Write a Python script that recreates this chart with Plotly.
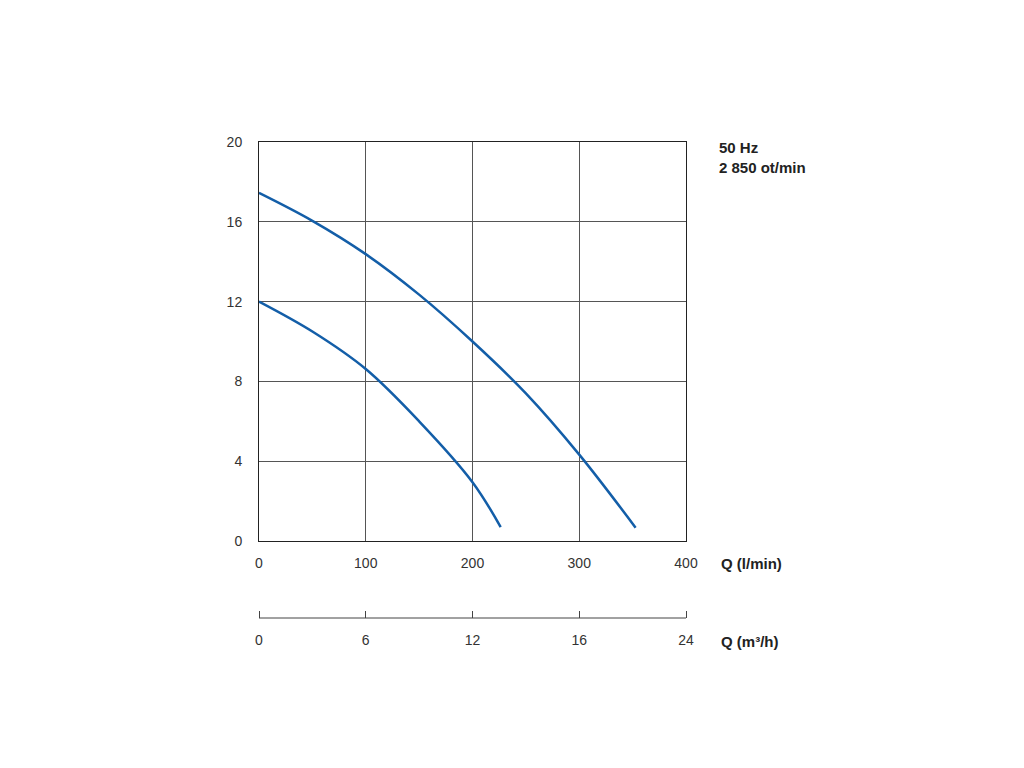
import plotly.graph_objects as go

# Data (Q in l/min, H in m)
q_upper = [0, 50, 100, 150, 200, 250, 300, 352.8]
h_upper = [17.45, 16.05, 14.38, 12.35, 10.0, 7.4, 4.33, 0.67]
q_lower = [0, 50, 100, 150, 200, 226.4]
h_lower = [12.0, 10.5, 8.62, 6.0, 2.95, 0.7]

x_ticks = [0, 100, 200, 300, 400]
y_ticks = [0, 4, 8, 12, 16, 20]
m3h_ticktext = ["0", "6", "12", "16", "24"]

curve_color = "#135ea8"
grid_color = "#555555"
font = dict(family="Liberation Sans, Arial, sans-serif", size=14, color="#333333")
bold_font = dict(family="Liberation Sans, Arial, sans-serif", size=15, color="#222222")

fig = go.Figure()
for q, h in [(q_upper, h_upper), (q_lower, h_lower)]:
    fig.add_trace(go.Scatter(x=q, y=h, mode="lines",
                             line=dict(color=curve_color, width=2.5, shape="spline", smoothing=1.0),
                             showlegend=False, hoverinfo="skip"))

# dummy trace for the m3/h axis subplot
fig.add_trace(go.Scatter(x=[0, 400], y=[None, None], xaxis="x2", yaxis="y2", mode="lines",
                         showlegend=False, hoverinfo="skip"))

PW = 431          # paper width in px
PAD = 2           # px padding so end ticks of the lower axis are drawn
H = 476
dom0 = (618 - 541) / H
ext = PAD * 400 / (PW - 2 * PAD)

fig.update_layout(
    width=1024, height=768,
    margin=dict(l=249, r=1024 - 249 - PW, t=134, b=158),
    paper_bgcolor="white", plot_bgcolor="white",
    font=font,
    xaxis=dict(range=[0, 400], tickvals=x_ticks, domain=[PAD / PW, 1 - PAD / PW],
               showgrid=True, gridcolor=grid_color,
               gridwidth=1, showline=True, linecolor="#222222", linewidth=1, mirror=True,
               zeroline=False, ticks="outside", ticklen=9, tickcolor="rgba(0,0,0,0)",
               anchor="y", fixedrange=True),
    yaxis=dict(range=[0, 20], tickvals=y_ticks, domain=[dom0, 1], showgrid=True,
               gridcolor=grid_color, gridwidth=1, showline=True, linecolor="#222222",
               linewidth=1, mirror=True, zeroline=False, ticks="outside", ticklen=13,
               tickcolor="rgba(0,0,0,0)", fixedrange=True, anchor="x"),
    xaxis2=dict(range=[-ext, 400 + ext], tickvals=x_ticks, ticktext=m3h_ticktext, anchor="y2",
                domain=[0, 1], showgrid=False, showline=False,
                ticks="inside", ticklen=7, tickcolor="#444444", zeroline=False,
                ticklabelstandoff=12, fixedrange=True),
    yaxis2=dict(domain=[0, 0.02], range=[0, 1], fixedrange=True, showgrid=False,
                showticklabels=False, ticks="", showline=False, zeroline=False),
    shapes=[dict(type="line", xref="x2", yref="y2 domain", x0=0, x1=400, y0=0, y1=0,
                 line=dict(color="#444444", width=1))],
)

lab_x = (719 - 8 - 249) / PW
fig.add_annotation(text="<b>Q (l/min)</b>", xref="paper", yref="paper", x=lab_x, y=dom0,
                   xanchor="left", yanchor="top", yshift=-12, showarrow=False, font=bold_font)
fig.add_annotation(text="<b>Q (m³/h)</b>", xref="paper", yref="paper", x=lab_x, y=0,
                   xanchor="left", yanchor="top", yshift=-13, showarrow=False, font=bold_font)
fig.add_annotation(text="<b>50 Hz<br>2 850 ot/min</b>", xref="paper", yref="paper",
                   x=(717 - 8 - 249) / PW, y=1,
                   xanchor="left", yanchor="top", yshift=5, showarrow=False, align="left",
                   font=bold_font)

fig.write_html("out.html")
